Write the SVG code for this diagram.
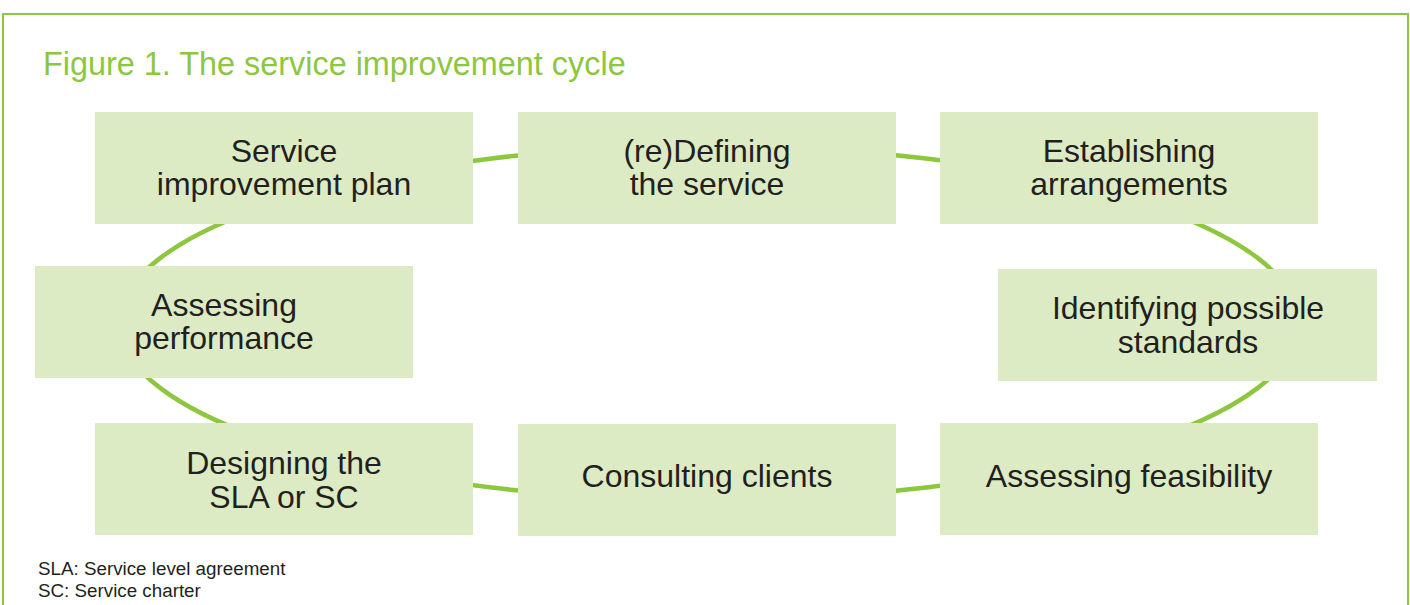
<svg xmlns="http://www.w3.org/2000/svg" width="1410" height="605" viewBox="0 0 1410 605">
<style>
.box{fill:#dcebc4}
.lbl{font-family:"Liberation Sans",Arial,sans-serif;font-size:32px;fill:#231f20;text-anchor:middle}
.title{font-family:"Liberation Sans",Arial,sans-serif;font-size:32.4px;fill:#8dc63f}
.note{font-family:"Liberation Sans",Arial,sans-serif;font-size:18.8px;fill:#231f20}
.cycle{fill:none;stroke:#8dc63f;stroke-width:4.5}
</style>
<rect x="0" y="0" width="1410" height="605" fill="#ffffff"/>
<rect x="3" y="14" width="1405" height="640" fill="none" stroke="#8dc63f" stroke-width="2"/>
<text class="title" x="43" y="75">Figure 1. The service improvement cycle</text>
<g id="connectors">
<ellipse class="cycle" cx="709" cy="323" rx="590" ry="177"/>
</g>
<g id="node-plan">
<rect class="box" x="95" y="112" width="378" height="112"/>
<text class="lbl" x="284" y="162">Service</text>
<text class="lbl" x="284" y="195">improvement plan</text>
</g>
<g id="node-define">
<rect class="box" x="518" y="112" width="378" height="112"/>
<text class="lbl" x="707" y="162">(re)Defining</text>
<text class="lbl" x="707" y="195">the service</text>
</g>
<g id="node-establish">
<rect class="box" x="940" y="112" width="378" height="112"/>
<text class="lbl" x="1129" y="162">Establishing</text>
<text class="lbl" x="1129" y="195">arrangements</text>
</g>
<g id="node-performance">
<rect class="box" x="35" y="266" width="378" height="112"/>
<text class="lbl" x="224" y="316">Assessing</text>
<text class="lbl" x="224" y="349">performance</text>
</g>
<g id="node-standards">
<rect class="box" x="998" y="269" width="379" height="112"/>
<text class="lbl" x="1188" y="319">Identifying possible</text>
<text class="lbl" x="1188" y="353">standards</text>
</g>
<g id="node-design">
<rect class="box" x="95" y="423" width="378" height="112"/>
<text class="lbl" x="284" y="474">Designing the</text>
<text class="lbl" x="284" y="508">SLA or SC</text>
</g>
<g id="node-consult">
<rect class="box" x="518" y="424" width="378" height="112"/>
<text class="lbl" x="707" y="487">Consulting clients</text>
</g>
<g id="node-feasibility">
<rect class="box" x="940" y="423" width="378" height="112"/>
<text class="lbl" x="1129" y="487">Assessing feasibility</text>
</g>
<text class="note" x="38" y="575">SLA: Service level agreement</text>
<text class="note" x="38" y="597">SC: Service charter</text>
</svg>
